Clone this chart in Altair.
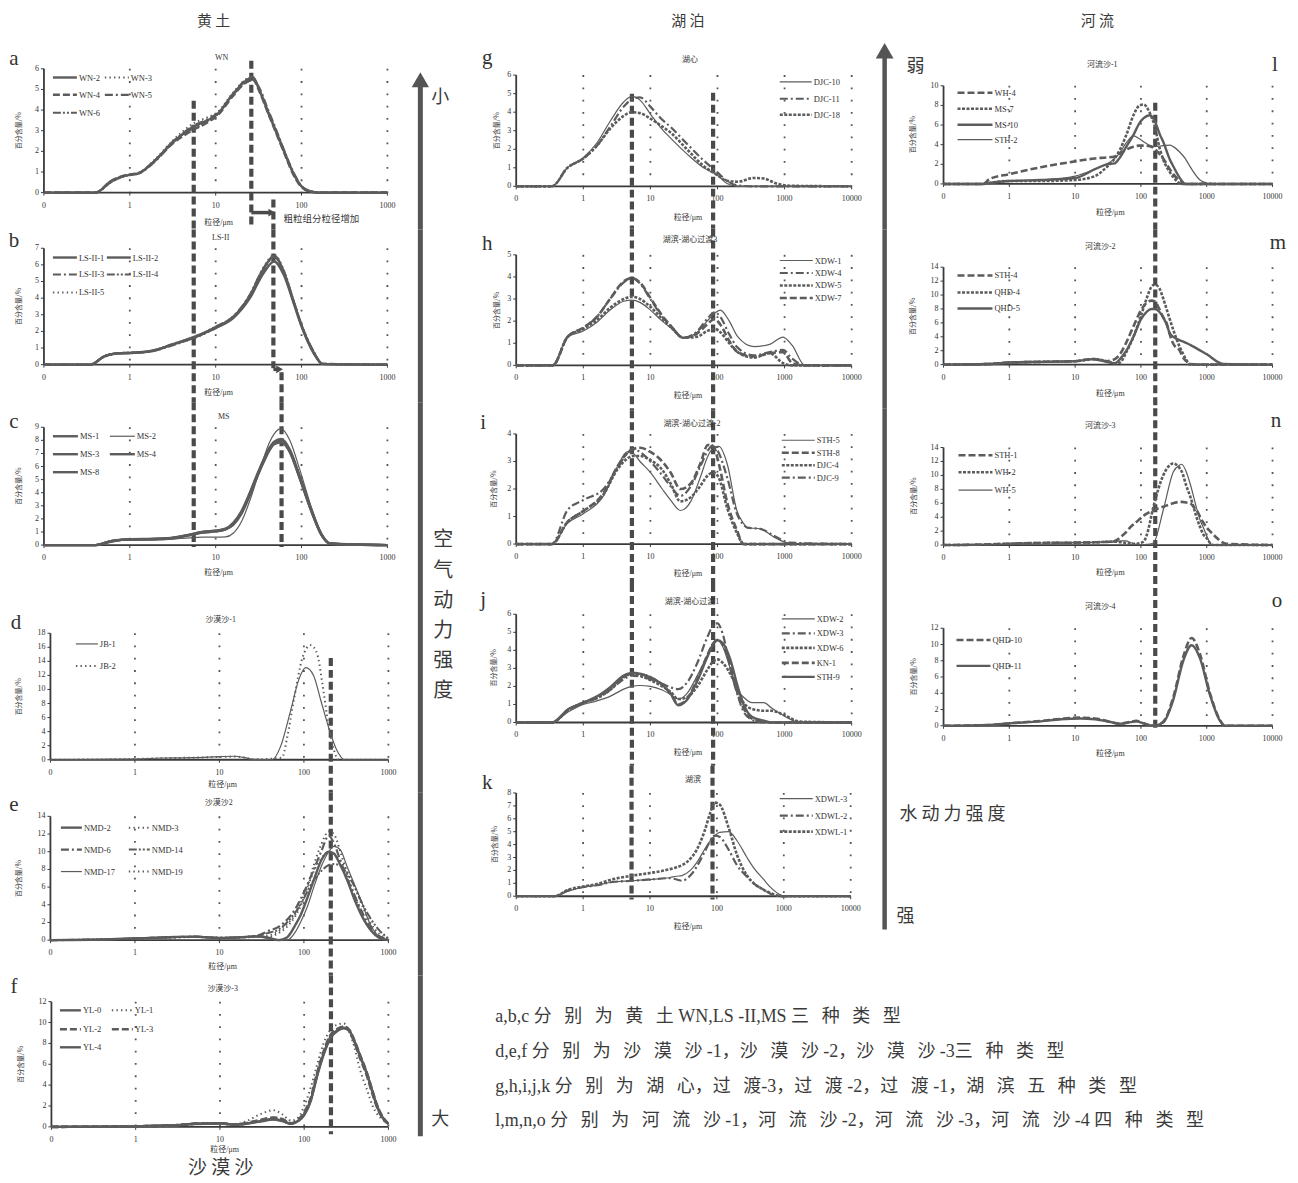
import altair as alt
import pandas as pd

# ======================= DATA =======================
A_X = [0.1, 0.4, 0.6, 0.85, 1.3, 1.9, 3.3, 5.5, 8, 10.5, 16, 23, 27, 32, 40, 50, 62, 80, 100, 130, 160, 1000]
A_SERIES = {
    "WN-2": [0, 0, 0.55, 0.8, 0.95, 1.5, 2.5, 3.2, 3.5, 3.8, 4.8, 5.45, 5.6, 5.0, 4.0, 3.0, 2.05, 0.95, 0.3, 0.05, 0, 0],
    "WN-3": [0, 0, 0.5, 0.78, 0.95, 1.55, 2.6, 3.35, 3.65, 3.9, 4.85, 5.5, 5.55, 5.05, 4.05, 3.05, 2.1, 1.0, 0.3, 0.05, 0, 0],
    "WN-4": [0, 0, 0.55, 0.82, 0.97, 1.5, 2.45, 3.05, 3.4, 3.75, 4.7, 5.4, 5.5, 4.95, 3.95, 2.95, 2.0, 0.9, 0.28, 0.04, 0, 0],
    "WN-5": [0, 0, 0.5, 0.8, 0.95, 1.45, 2.5, 3.25, 3.55, 3.85, 4.75, 5.35, 5.45, 5.1, 4.1, 3.1, 2.1, 1.0, 0.32, 0.05, 0, 0],
    "WN-6": [0, 0, 0.52, 0.8, 0.98, 1.5, 2.55, 3.1, 3.45, 3.8, 4.8, 5.5, 5.6, 5.05, 3.95, 3.0, 2.0, 0.95, 0.3, 0.05, 0, 0],
}
B_X = [0.1, 0.35, 0.5, 0.7, 1, 1.75, 3.3, 5.8, 10, 16, 25, 36, 48, 62, 81, 100, 138, 175, 1000]
B_SERIES = {
    "LS-II-1": [0, 0, 0.5, 0.68, 0.7, 0.8, 1.25, 1.65, 2.25, 2.85, 4.15, 5.75, 6.55, 5.6, 3.75, 2.35, 0.75, 0.05, 0],
    "LS-II-2": [0, 0, 0.48, 0.66, 0.7, 0.82, 1.25, 1.7, 2.2, 2.8, 4.0, 5.5, 6.2, 5.4, 3.7, 2.3, 0.7, 0.05, 0],
    "LS-II-3": [0, 0, 0.5, 0.68, 0.72, 0.8, 1.2, 1.65, 2.25, 2.9, 4.2, 5.8, 6.5, 5.55, 3.8, 2.4, 0.8, 0.06, 0],
    "LS-II-4": [0, 0, 0.5, 0.7, 0.72, 0.82, 1.28, 1.68, 2.3, 2.9, 4.1, 5.7, 6.45, 5.65, 3.85, 2.4, 0.78, 0.05, 0],
    "LS-II-5": [0, 0, 0.45, 0.65, 0.7, 0.8, 1.22, 1.62, 2.2, 2.85, 4.2, 5.85, 6.6, 5.7, 3.8, 2.35, 0.75, 0.05, 0],
}
C_X = [0.1, 0.4, 0.6, 0.8, 1, 2, 3, 5, 7, 10, 13, 16, 20, 25, 30, 36, 42, 48, 58, 73, 95, 130, 170, 215, 1000]
C_SERIES = {
    "MS-1": [0, 0, 0.3, 0.4, 0.42, 0.45, 0.5, 0.75, 0.95, 1.05, 1.2, 1.6, 2.5, 3.9, 5.2, 6.4, 7.3, 7.8, 8.0, 7.2, 5.2, 2.6, 0.8, 0.1, 0],
    "MS-2": [0, 0, 0.2, 0.35, 0.4, 0.4, 0.45, 0.55, 0.6, 0.6, 0.62, 0.9, 1.8, 3.4, 5.0, 6.6, 7.8, 8.5, 8.9, 8.0, 5.8, 2.9, 0.9, 0.15, 0],
    "MS-3": [0, 0, 0.3, 0.42, 0.45, 0.48, 0.55, 0.8, 1.0, 1.1, 1.25, 1.7, 2.6, 4.0, 5.3, 6.5, 7.4, 7.9, 8.1, 7.3, 5.3, 2.7, 0.85, 0.12, 0],
    "MS-4": [0, 0, 0.28, 0.4, 0.42, 0.46, 0.52, 0.78, 0.95, 1.05, 1.2, 1.55, 2.4, 3.8, 5.1, 6.3, 7.2, 7.7, 7.85, 7.1, 5.1, 2.6, 0.8, 0.1, 0],
    "MS-8": [0, 0, 0.3, 0.4, 0.43, 0.47, 0.53, 0.8, 1.0, 1.1, 1.22, 1.6, 2.5, 3.9, 5.2, 6.4, 7.3, 7.75, 7.9, 7.15, 5.2, 2.65, 0.82, 0.1, 0],
}
D1_X = [0.1, 1, 2, 5, 10, 15, 20, 25, 42, 53, 70, 87, 105, 130, 158, 206, 240, 270, 300, 1000]
D2_X = [0.1, 1, 2, 5, 10, 15, 20, 25, 55, 63, 76, 96, 120, 144, 165, 197, 226, 260, 1000]
D_SERIES = {
    "JB-1": (D1_X, [0, 0.1, 0.25, 0.3, 0.45, 0.5, 0.3, 0.05, 0, 1.9, 7.1, 11.4, 13.1, 12.0, 8.5, 3.8, 1.6, 0.5, 0, 0]),
    "JB-2": (D2_X, [0, 0.1, 0.2, 0.3, 0.4, 0.45, 0.3, 0.05, 0.3, 3.0, 8.5, 14.5, 16.3, 15.0, 10.9, 4.7, 1.4, 0, 0]),
}
E_X = [0.1, 0.5, 1, 3, 5, 10, 20, 30, 37, 50, 63, 80, 91, 110, 131, 160, 197, 226, 270, 325, 400, 470, 610, 800, 1000]
E_SERIES = {
    "NMD-2": [0, 0.1, 0.2, 0.35, 0.4, 0.25, 0.35, 0.45, 0.3, 0, 0.3, 1.8, 2.8, 4.8, 6.8, 9.0, 10.0, 9.8, 8.5, 6.8, 4.5, 3.0, 1.2, 0.2, 0],
    "NMD-3": [0, 0.1, 0.2, 0.3, 0.35, 0.25, 0.3, 0.4, 0.3, 0.8, 1.5, 2.8, 3.8, 6.0, 8.5, 10.8, 12.3, 12.0, 10.0, 7.5, 5.0, 3.2, 1.2, 0.3, 0.05],
    "NMD-6": [0, 0.1, 0.2, 0.35, 0.4, 0.25, 0.35, 0.6, 1.0, 1.5, 2.3, 3.6, 4.6, 6.3, 8.0, 10.0, 11.8, 11.0, 9.0, 7.0, 5.0, 3.5, 1.5, 0.4, 0.05],
    "NMD-14": [0, 0.1, 0.2, 0.35, 0.4, 0.25, 0.35, 0.55, 0.8, 1.2, 2.0, 3.2, 4.0, 5.5, 6.8, 7.8, 8.5, 8.6, 8.4, 7.5, 6.0, 4.5, 2.5, 1.0, 0.2],
    "NMD-17": [0, 0.1, 0.2, 0.3, 0.35, 0.2, 0.3, 0.35, 0.2, 0.05, 0, 1.0, 2.0, 3.8, 6.0, 8.3, 10.0, 10.6, 10.2, 8.3, 6.2, 4.6, 1.8, 0.3, 0],
    "NMD-19": [0, 0.1, 0.2, 0.3, 0.4, 0.3, 0.35, 0.45, 0.5, 1.0, 1.8, 3.0, 4.2, 6.0, 7.8, 9.2, 10.0, 9.8, 9.0, 7.8, 6.0, 4.3, 2.0, 0.6, 0.1],
}
F_X = [0.1, 1, 3, 5, 10, 15, 20, 30, 43, 55, 70, 85, 100, 120, 143, 170, 205, 250, 295, 340, 390, 460, 560, 650, 740, 850, 960, 1000]
F_SERIES = {
    "YL-0": [0, 0.05, 0.15, 0.3, 0.35, 0.2, 0.3, 0.55, 0.75, 0.6, 0.3, 0.6, 1.2, 2.6, 5.0, 7.0, 8.6, 9.3, 9.5, 9.3, 8.3, 6.8, 5.0, 3.3, 1.9, 0.9, 0.4, 0.3],
    "YL-1": [0, 0.05, 0.15, 0.3, 0.35, 0.25, 0.5, 1.2, 1.6, 1.2, 0.6, 0.9, 2.0, 3.8, 6.0, 8.0, 9.3, 9.8, 9.9, 9.2, 7.8, 5.5, 3.5, 2.0, 1.2, 0.7, 0.4, 0.3],
    "YL-2": [0, 0.05, 0.15, 0.3, 0.35, 0.2, 0.3, 0.6, 0.85, 0.7, 0.35, 0.7, 1.4, 2.8, 5.2, 7.2, 8.8, 9.4, 9.6, 9.2, 8.2, 6.6, 4.8, 3.1, 1.8, 0.85, 0.4, 0.3],
    "YL-3": [0, 0.05, 0.15, 0.3, 0.35, 0.2, 0.35, 0.65, 0.9, 0.75, 0.35, 0.6, 1.3, 2.7, 5.1, 7.1, 8.7, 9.4, 9.6, 9.35, 8.4, 6.9, 5.1, 3.4, 2.0, 1.0, 0.45, 0.3],
    "YL-4": [0, 0.05, 0.15, 0.28, 0.32, 0.2, 0.28, 0.5, 0.7, 0.55, 0.3, 0.55, 1.1, 2.5, 4.9, 6.9, 8.5, 9.2, 9.45, 9.25, 8.3, 6.8, 5.0, 3.3, 1.9, 0.9, 0.4, 0.3],
}
G_X = [0.1, 0.34, 0.58, 1, 1.6, 2.5, 4, 5.3, 7, 10, 14, 20, 35, 62, 100, 138, 200, 350, 490, 760, 1200, 10000]
G_SERIES = {
    "DJC-10": [0, 0, 1.0, 1.55, 2.35, 3.5, 4.55, 4.85, 4.65, 3.9, 3.2, 2.6, 1.75, 1.0, 0.6, 0.15, 0, 0, 0, 0, 0, 0],
    "DJC-11": [0, 0, 1.0, 1.5, 2.2, 3.2, 4.3, 4.7, 4.8, 4.3, 3.7, 3.2, 2.3, 1.4, 0.75, 0.3, 0.05, 0, 0, 0, 0, 0],
    "DJC-18": [0, 0, 1.0, 1.5, 2.2, 3.1, 3.8, 4.0, 3.95, 3.65, 3.3, 2.9, 2.0, 1.1, 0.6, 0.3, 0.25, 0.45, 0.42, 0.15, 0.03, 0],
}
H_X = [0.1, 0.35, 0.58, 1, 1.6, 2.5, 4, 5.3, 7, 10, 15, 20, 31, 50, 70, 90, 110, 150, 200, 350, 600, 950, 1300, 2000, 10000]
H_SERIES = {
    "XDW-1": [0, 0, 1.28, 1.55, 1.95, 2.5, 2.9, 2.95, 2.85, 2.5, 2.0, 1.7, 1.25, 1.5, 2.0, 2.35, 2.5, 2.0, 1.3, 0.85, 0.95, 1.28, 0.9, 0, 0],
    "XDW-4": [0, 0, 1.28, 1.7, 2.2, 3.0, 3.75, 3.95, 3.7, 3.0, 2.2, 1.8, 1.25, 1.55, 2.1, 2.4, 2.2, 1.4, 0.8, 0.45, 0.6, 0.7, 0.3, 0, 0],
    "XDW-5": [0, 0, 1.28, 1.65, 2.05, 2.6, 3.0, 3.1, 3.0, 2.65, 2.1, 1.75, 1.25, 1.3, 1.55, 1.65, 1.5, 1.0, 0.6, 0.35, 0.55, 0.1, 0, 0, 0],
    "XDW-7": [0, 0, 1.28, 1.7, 2.2, 3.0, 3.8, 3.95, 3.75, 3.05, 2.25, 1.8, 1.25, 1.45, 1.85, 2.1, 1.85, 1.1, 0.6, 0.4, 0.55, 0.6, 0.1, 0, 0],
}
I_X = [0.1, 0.34, 0.58, 1, 2, 3.2, 4.5, 5.5, 7, 10, 15, 20, 28, 40, 55, 72, 87, 105, 140, 195, 245, 277, 435, 760, 1200, 10000]
I_SERIES = {
    "STH-5": [0, 0, 0.75, 1.1, 1.75, 2.8, 3.35, 3.3, 3.0, 2.6, 2.0, 1.6, 1.22, 1.55, 2.4, 3.2, 3.5, 3.55, 2.9, 1.2, 0.75, 0.6, 0.55, 0.2, 0.03, 0],
    "STH-8": [0, 0, 0.8, 1.2, 1.85, 2.8, 3.3, 3.45, 3.5, 3.35, 3.0, 2.6, 2.0, 2.2, 2.9, 3.6, 3.55, 2.9, 1.5, 0.5, 0, 0, 0, 0, 0, 0],
    "DJC-4": [0, 0, 0.8, 1.2, 1.8, 2.7, 3.1, 3.2, 3.2, 3.05, 2.7, 2.2, 1.55, 1.7, 2.1, 2.5, 2.6, 2.4, 1.3, 0.4, 0, 0, 0, 0, 0, 0],
    "DJC-9": [0, 0, 1.23, 1.6, 2.0, 2.75, 3.3, 3.45, 3.35, 3.0, 2.5, 2.1, 1.75, 2.1, 2.8, 3.4, 3.6, 3.3, 2.4, 1.1, 0.7, 0.6, 0.55, 0.25, 0.05, 0],
}
J_X = [0.1, 0.34, 0.6, 1, 1.6, 2.5, 4, 5.3, 7, 10, 15, 20, 26, 35, 50, 70, 87, 100, 120, 155, 200, 245, 330, 490, 640, 1000, 1700, 10000]
J_SERIES = {
    "XDW-2": [0, 0, 0.6, 1.0, 1.2, 1.45, 1.85, 2.0, 2.05, 2.0, 1.8, 1.55, 1.3, 1.6, 2.6, 3.7, 4.4, 4.6, 4.2, 3.0, 1.8, 1.4, 1.1, 1.1, 0.8, 0.35, 0, 0],
    "XDW-3": [0, 0, 0.7, 1.1, 1.35, 1.8, 2.4, 2.6, 2.55, 2.4, 2.15, 1.95, 1.85, 2.2, 3.3, 4.7, 5.4, 5.5, 4.9, 3.0, 1.5, 0.6, 0.15, 0, 0, 0, 0, 0],
    "XDW-6": [0, 0, 0.7, 1.1, 1.35, 1.8, 2.5, 2.7, 2.6, 2.35, 2.0, 1.7, 1.3, 1.4, 2.0, 2.9, 3.4, 3.5, 3.3, 2.7, 1.8, 1.1, 0.75, 0.65, 0.65, 0.4, 0.05, 0],
    "KN-1": [0, 0, 0.7, 1.1, 1.4, 1.9, 2.55, 2.75, 2.7, 2.5, 2.1, 1.6, 1.0, 1.3, 2.4, 3.7, 4.4, 4.6, 4.3, 3.2, 1.6, 0.8, 0.2, 0.05, 0, 0, 0, 0],
    "STH-9": [0, 0, 0.75, 1.1, 1.45, 1.95, 2.6, 2.75, 2.7, 2.5, 2.1, 1.6, 0.95, 1.25, 2.3, 3.6, 4.35, 4.55, 4.4, 3.5, 2.0, 1.0, 0.3, 0.1, 0, 0, 0, 0],
}
K_X = [0.1, 0.37, 0.6, 1, 1.6, 2.7, 5.5, 10, 20, 25, 30, 40, 50, 65, 80, 93, 110, 150, 200, 282, 355, 500, 630, 900, 1000, 10000]
K_SERIES = {
    "XDWL-3": [0, 0, 0.4, 0.7, 0.85, 1.1, 1.2, 1.3, 1.45, 1.55, 1.6, 2.0, 2.6, 3.6, 4.3, 4.7, 4.95, 5.0, 4.3, 3.0, 2.2, 1.3, 0.7, 0.1, 0.02, 0],
    "XDWL-2": [0, 0, 0.45, 0.7, 0.85, 1.1, 1.2, 1.3, 1.4, 1.3, 1.2, 1.6, 2.3, 3.4, 4.3, 4.7, 4.6, 3.6, 2.4, 1.5, 1.0, 0.5, 0.2, 0, 0, 0],
    "XDWL-1": [0, 0, 0.5, 0.75, 0.95, 1.3, 1.6, 1.8, 2.1, 2.25, 2.4, 2.9, 3.6, 5.0, 6.5, 7.25, 7.1, 5.3, 3.2, 1.6, 1.0, 0.5, 0.25, 0.02, 0, 0],
}
L_X = [0.1, 0.4, 0.5, 1, 3, 10, 20, 30, 40, 48, 60, 77, 95, 110, 137, 160, 195, 218, 275, 310, 420, 470, 490, 790, 1000, 1200, 10000]
L_SERIES = {
    "WH-4": [0, 0, 0.5, 1.0, 1.7, 2.3, 2.6, 2.7, 2.8, 3.1, 3.5, 3.8, 3.9, 3.9, 3.85, 3.6, 3.0, 2.6, 1.5, 1.0, 0.2, 0, 0, 0, 0.1, 0, 0],
    "MS-7": [0, 0, 0.1, 0.3, 0.3, 0.4, 0.8, 1.7, 2.6, 3.5, 5.0, 7.0, 8.0, 8.1, 7.2, 6.0, 3.5, 2.5, 1.2, 0.7, 0, 0, 0, 0, 0, 0, 0],
    "MS-10": [0, 0, 0.1, 0.3, 0.4, 0.6, 1.5, 2.0, 2.1, 2.7, 3.8, 5.0, 6.2, 6.7, 7.0, 6.5, 5.0, 4.3, 2.5, 1.8, 0.3, 0, 0, 0, 0, 0, 0],
    "STH-2": [0, 0, 0.1, 0.3, 0.4, 0.8, 1.5, 2.0, 2.6, 3.2, 4.2, 4.9, 4.6, 4.3, 3.9, 3.8, 3.85, 3.9, 3.95, 3.8, 3.0, 2.6, 2.4, 0.4, 0.1, 0, 0],
}
M_X = [0.1, 0.5, 1, 3, 10, 19, 30, 40, 48, 60, 77, 100, 122, 145, 162, 190, 218, 245, 275, 310, 390, 440, 520, 560, 1000, 1780, 10000]
M_SERIES = {
    "STH-4": [0, 0.1, 0.3, 0.4, 0.5, 0.8, 0.5, 0.8, 1.5, 3.2, 5.5, 7.8, 8.9, 9.2, 9.1, 8.0, 6.8, 6.0, 4.3, 3.0, 2.0, 1.0, 0.3, 0.1, 0, 0, 0],
    "QHD-4": [0, 0.1, 0.3, 0.4, 0.5, 0.8, 0.5, 0.2, 0.3, 1.8, 4.0, 7.0, 9.5, 11.2, 11.5, 11.0, 9.5, 8.0, 6.5, 5.0, 2.5, 1.5, 0.3, 0, 0, 0, 0],
    "QHD-5": [0, 0.1, 0.3, 0.4, 0.5, 0.8, 0.4, 0.2, 0.8, 2.0, 4.0, 6.5, 7.6, 8.0, 8.0, 7.6, 6.8, 5.8, 4.5, 4.0, 3.5, 3.3, 3.0, 2.85, 1.5, 0.1, 0],
}
N_X = [0.1, 0.5, 1, 3, 10, 20, 38, 50, 60, 68, 85, 110, 123, 155, 218, 310, 390, 415, 490, 560, 630, 700, 800, 890, 1000, 1120, 1260, 2000, 10000]
N_SERIES = {
    "STH-1": [0, 0.1, 0.2, 0.3, 0.35, 0.4, 0.5, 1.2, 1.9, 2.5, 3.3, 4.2, 4.5, 5.0, 5.5, 6.0, 6.2, 6.2, 6.1, 6.0, 5.5, 5.0, 4.0, 3.2, 2.5, 2.0, 1.5, 0.2, 0],
    "WH-2": [0, 0.1, 0.2, 0.3, 0.35, 0.4, 0.5, 0.4, 0.3, 0.2, 0.2, 0.5, 1.5, 5.5, 10.0, 11.7, 11.0, 10.6, 8.5, 7.0, 5.5, 4.0, 2.5, 1.5, 1.0, 0.3, 0, 0, 0],
    "WH-5": [0, 0.1, 0.2, 0.3, 0.35, 0.4, 0.5, 0.6, 0.6, 0.4, 0.1, 0.05, 0.1, 0.3, 5.0, 10.5, 11.5, 11.6, 10.5, 8.8, 7.0, 5.3, 3.5, 2.5, 1.3, 0.3, 0, 0, 0],
}
O_X = [0.1, 0.5, 1, 3, 6, 12, 20, 33, 48, 70, 85, 110, 155, 218, 310, 440, 590, 790, 1120, 1590, 1900, 10000]
O_SERIES = {
    "QHD-10": [0, 0.1, 0.3, 0.6, 0.85, 1.0, 0.9, 0.5, 0.25, 0.5, 0.6, 0.3, 0, 0.5, 3.5, 8.5, 10.8, 8.8, 4.0, 0.7, 0, 0],
    "QHD-11": [0, 0.1, 0.3, 0.55, 0.8, 0.9, 0.8, 0.5, 0.25, 0.45, 0.55, 0.3, 0, 0.4, 3.2, 8.0, 9.9, 8.3, 3.8, 0.6, 0, 0],
}

SP = "\u2002\u2009"
CAPTION = [
    "a,b,c  " + SP.join("分别为黄土") + " WN,LS -II,MS " + SP.join("三种类型"),
    "d,e,f " + SP.join("分别为沙漠沙") + " -1，" + SP.join("沙漠沙") + " -2，" + SP.join("沙漠沙") + " -3" + SP.join("三种类型"),
    "g,h,i,j,k  " + SP.join("分别为湖心") + "，" + SP.join("过渡") + "-3，" + SP.join("过渡") + " -2，"
    + SP.join("过渡") + " -1，" + SP.join("湖滨五种类型"),
    "l,m,n,o  " + SP.join("分别为河流沙") + " -1，" + SP.join("河流沙") + " -2，" + SP.join("河流沙") + " -3，"
    + SP.join("河流沙") + " -4 " + SP.join("四种类型"),
]

# ======================= STYLE / LAYOUT =======================
FONT = "Liberation Serif, Noto Sans CJK SC"
CJK = "Noto Sans CJK SC, Liberation Serif"
LINE = "#5c5c5c"
INK = "#333333"
AXC = "#3a3a3a"
GUIDE = "#4a4a4a"

STYLES = {
    "solid": dict(strokeWidth=2.4),
    "thin": dict(strokeWidth=1.2),
    "dot": dict(strokeWidth=2.0, strokeDash=[1.4, 3.2]),
    "dash": dict(strokeWidth=2.6, strokeDash=[7, 3]),
    "dashdot": dict(strokeWidth=2.2, strokeDash=[8, 3, 2, 3]),
    "dashdotdot": dict(strokeWidth=2.0, strokeDash=[8, 2, 2, 2, 2, 2]),
    "dense": dict(strokeWidth=2.6, strokeDash=[3, 1.5]),
}

# column slots: (page x origin, width)
COLS = {"L": (8, 462), "M": (470, 406), "R": (876, 414)}

PANELS = [
    dict(id="a", col="L", slot=(8, 229), px=(43, 387), py=(192, 68), xmax=1000, ymax=6, ystep=1,
         S=A_SERIES, X=A_X, sty=["solid", "dot", "dash", "dashdot", "dashdotdot"],
         title="WN", tpos=(221, 57), letter="a", lpos=(13, 58), xt=(218, 222), yt=(18, 130),
         leg=dict(x0=52, cols=2, step=52, sym=24, rows=[76.7, 94, 112])),
    dict(id="b", col="L", slot=(229, 402), px=(43, 387), py=(364.3, 247.7), xmax=1000, ymax=7, ystep=1,
         S=B_SERIES, X=B_X, sty=["solid", "solid", "dashdot", "dashdotdot", "dot"],
         title="LS-II", tpos=(220, 237), letter="b", lpos=(13, 240), xt=(218, 393), yt=(18, 306),
         leg=dict(x0=52, cols=2, step=54, sym=24, rows=[257, 274, 292])),
    dict(id="c", col="L", slot=(402, 585), px=(43, 387), py=(545, 427), xmax=1000, ymax=9, ystep=1,
         S=C_SERIES, X=C_X, sty=["solid", "thin", "solid", "solid", "solid"],
         title="MS", tpos=(223, 417), letter="c", lpos=(13, 422), xt=(218, 573), yt=(18, 486),
         leg=dict(x0=52, cols=2, step=57, sym=25, rows=[436, 454, 472])),
    dict(id="d", col="L", slot=(585, 793), px=(49.5, 388), py=(760, 633.3), xmax=1000, ymax=18, ystep=2,
         S=D_SERIES, X=None, sty=["thin", "dot"],
         title="沙漠沙-1", tpos=(220, 620), letter="d", lpos=(15, 623), xt=(222, 785), yt=(18, 697),
         leg=dict(x0=75, cols=1, step=0, sym=22, rows=[644, 666])),
    dict(id="e", col="L", slot=(793, 976), px=(49.5, 388), py=(940.7, 816.7), xmax=1000, ymax=14, ystep=2,
         S=E_SERIES, X=E_X, sty=["solid", "dot", "dashdot", "dashdotdot", "thin", "dot"],
         title="沙漠沙2", tpos=(218, 803), letter="e", lpos=(13, 805), xt=(222, 968), yt=(18, 879),
         leg=dict(x0=60, cols=2, step=68, sym=21, rows=[828, 850, 872])),
    dict(id="f", col="L", slot=(976, 1175), px=(50.5, 388), py=(1127.7, 1002.3), xmax=1000, ymax=12, ystep=2,
         S=F_SERIES, X=F_X, sty=["solid", "dot", "dash", "dash", "solid"],
         title="沙漠沙-3", tpos=(222, 990), letter="f", lpos=(13, 988), xt=(224, 1151), yt=(20, 1065),
         leg=dict(x0=59, cols=2, step=52, sym=21, rows=[1011, 1030, 1048])),
    dict(id="g", col="M", slot=(8, 228), px=(516, 852), py=(185.7, 74.3), xmax=10000, ymax=6, ystep=1,
         S=G_SERIES, X=G_X, sty=["thin", "dashdot", "dense"],
         title="湖心", tpos=(690, 59), letter="g", lpos=(487, 57), xt=(688, 217), yt=(497, 130),
         leg=dict(x0=780, cols=1, step=0, sym=32, rows=[81, 98, 114])),
    dict(id="h", col="M", slot=(228, 410), px=(516, 852), py=(365, 254.3), xmax=10000, ymax=5, ystep=1,
         S=H_SERIES, X=H_X, sty=["thin", "dashdot", "dense", "dash"],
         title="湖滨-湖心过渡3", tpos=(690, 239), letter="h", lpos=(487, 243), xt=(688, 396), yt=(497, 310),
         leg=dict(x0=780, cols=1, step=0, sym=33, rows=[260, 272.5, 285, 297.5])),
    dict(id="i", col="M", slot=(410, 584), px=(516, 852), py=(544, 433.7), xmax=10000, ymax=4, ystep=1,
         S=I_SERIES, X=I_X, sty=["thin", "dash", "dense", "dashdot"],
         title="湖滨-湖心过渡-2", tpos=(692, 424), letter="i", lpos=(483, 423), xt=(688, 574), yt=(494, 489),
         leg=dict(x0=782, cols=1, step=0, sym=33, rows=[440, 452.5, 465, 477.5])),
    dict(id="j", col="M", slot=(584, 766), px=(516, 852), py=(722.7, 614.3), xmax=10000, ymax=6, ystep=1,
         S=J_SERIES, X=J_X, sty=["thin", "dashdot", "dense", "dash", "solid"],
         title="湖滨-湖心过渡1", tpos=(692, 602), letter="j", lpos=(483, 600), xt=(688, 753), yt=(494, 668),
         leg=dict(x0=782, cols=1, step=0, sym=33, rows=[619, 633.5, 648, 663, 677])),
    dict(id="k", col="M", slot=(766, 985), px=(516, 851), py=(896.7, 793.3), xmax=10000, ymax=8, ystep=1,
         S=K_SERIES, X=K_X, sty=["thin", "dashdot", "dense"],
         title="湖滨", tpos=(693, 780), letter="k", lpos=(487, 783), xt=(688, 928), yt=(495, 845),
         leg=dict(x0=780, cols=1, step=0, sym=33, rows=[799, 816, 832])),
    dict(id="l", col="R", slot=(8, 229), px=(943, 1272.5), py=(183.3, 85), xmax=10000, ymax=10, ystep=2,
         S=L_SERIES, X=L_X, sty=["dash", "dense", "solid", "thin"],
         title="河流沙-1", tpos=(1102, 64), letter="l", lpos=(1275, 64), xt=(1110, 212), yt=(912, 134),
         leg=dict(x0=957, cols=1, step=0, sym=35, rows=[92, 108, 124, 139])),
    dict(id="m", col="R", slot=(229, 408), px=(943, 1272.5), py=(364.3, 266.7), xmax=10000, ymax=14, ystep=2,
         S=M_SERIES, X=M_X, sty=["dash", "dense", "solid"],
         title="河流沙-2", tpos=(1100, 246), letter="m", lpos=(1278, 242), xt=(1110, 394), yt=(912, 316),
         leg=dict(x0=957, cols=1, step=0, sym=35, rows=[275, 292, 308])),
    dict(id="n", col="R", slot=(408, 588), px=(943, 1272.5), py=(545, 447.3), xmax=10000, ymax=14, ystep=2,
         S=N_SERIES, X=N_X, sty=["dash", "dense", "thin"],
         title="河流沙-3", tpos=(1100, 426), letter="n", lpos=(1276, 421), xt=(1110, 573), yt=(913, 496),
         leg=dict(x0=958, cols=1, step=0, sym=34, rows=[455, 472, 490])),
    dict(id="o", col="R", slot=(588, 985), px=(943, 1272.5), py=(726, 628.3), xmax=10000, ymax=12, ystep=2,
         S=O_SERIES, X=O_X, sty=["dash", "solid"],
         title="河流沙-4", tpos=(1100, 607), letter="o", lpos=(1277, 601), xt=(1110, 754), yt=(913, 677),
         leg=dict(x0=956, cols=1, step=0, sym=34, rows=[640, 666])),
]

# thick dashed guide lines: (panels, x in um, page y top, page y bottom)
GUIDES = [
    ("abc", 5.55, 100, 547), ("abc", 26, 60, 228), ("abc", 47, 199, 368), ("abc", 58.5, 372, 547),
    ("def", 208, 658, 1135),
    ("ghijk", 5.3, 93, 900), ("ghijk", 86, 92, 900),
    ("lmno", 165, 102, 730),
]
DARROWS = [("a", 26, 42, 45, 212), ("b", 47, 52.5, 55.5, 369)]
DTEXT = [
    ("L", 213, 20, "黄 土", 15, CJK, "center"),
    ("M", 688, 20, "湖 泊", 15, CJK, "center"),
    ("R", 1097, 20, "河 流", 15, CJK, "center"),
    ("L", 440, 97, "小", 18, CJK, "center"),
    ("L", 443, 540, "空", 20, CJK, "center"), ("L", 443, 571, "气", 20, CJK, "center"),
    ("L", 443, 601, "动", 20, CJK, "center"), ("L", 443, 631, "力", 20, CJK, "center"),
    ("L", 443, 661, "强", 20, CJK, "center"), ("L", 443, 691, "度", 20, CJK, "center"),
    ("L", 440, 1121, "大", 18, CJK, "center"),
    ("L", 220, 1169, "沙 漠 沙", 19, CJK, "center"),
    ("L", 283, 218, "粗粒组分粒径增加", 9.5, CJK, "left"),
    ("R", 915, 66, "弱", 18, CJK, "center"),
    ("R", 952, 815, "水 动 力 强 度", 18, CJK, "center"),
    ("R", 905, 918, "强", 18, CJK, "center"),
]
VRULES = [("L", 420, 84, 1137, 5), ("R", 884, 56, 930, 4.5)]
HEADS = [("L", 420, 79, 300), ("R", 884, 50, 320)]

ONE = pd.DataFrame({"k": [0]})


def txt(x, y, s, size, font=FONT, align="center", angle=None, color=INK):
    kw = dict(text=s, fontSize=size, align=align, baseline="middle", font=font, color=color)
    if angle is not None:
        kw["angle"] = angle
    return alt.Chart(ONE).mark_text(**kw).encode(x=alt.value(x), y=alt.value(y))


def in_slot(y, top, bot):
    return top <= y < bot


def build_panel(p):
    cx0, cw = COLS[p["col"]]
    top, bot = p["slot"]
    H = bot - top
    lx = lambda v: v - cx0
    ly = lambda v: v - top
    xr = [lx(p["px"][0]), lx(p["px"][1])]
    yr = [ly(p["py"][0]), ly(p["py"][1])]
    decades = [1, 10, 100, 1000] + ([10000] if p["xmax"] == 10000 else [])
    xs = alt.Scale(type="log", domain=[0.1, p["xmax"]], range=xr, nice=False)
    ys = alt.Scale(type="linear", domain=[0, p["ymax"]], range=yr, nice=False)
    X = lambda f: alt.X(f, type="quantitative", scale=xs, axis=None)
    Y = lambda f: alt.Y(f, type="quantitative", scale=ys, axis=None)

    layers = []
    # dotted decade lines
    gdf = pd.DataFrame({"x": decades, "y": [p["ymax"]] * len(decades), "y0": [0] * len(decades)})
    layers.append(alt.Chart(gdf).mark_rule(color="#555555", strokeWidth=1.8, strokeDash=[1.8, 10.5]).encode(
        x=X("x"), y=Y("y"), y2=alt.Y2("y0")))

    # axes drawn from the scales
    xt_vals = [0.1] + decades
    xt_lab = ["0"] + [str(v) for v in decades]
    yt_vals = list(range(0, p["ymax"] + 1, p["ystep"]))
    layers.append(alt.Chart(pd.DataFrame({"x": [0.1], "x2": [p["xmax"]], "y": [0]})).mark_rule(
        color=AXC, strokeWidth=1.8).encode(x=X("x"), x2=alt.X2("x2"), y=Y("y")))
    layers.append(alt.Chart(pd.DataFrame({"x": [0.1], "y": [0], "y2": [p["ymax"]]})).mark_rule(
        color=AXC, strokeWidth=1.8).encode(x=X("x"), y=Y("y"), y2=alt.Y2("y2")))
    ydf = pd.DataFrame({"y": yt_vals, "lab": [str(v) for v in yt_vals]})
    layers.append(alt.Chart(ydf).mark_rule(color=AXC, strokeWidth=1).encode(
        x=alt.value(xr[0] - 3), x2=alt.value(xr[0]), y=Y("y")))
    layers.append(alt.Chart(ydf).mark_text(font="Liberation Serif", fontSize=8, color=INK, align="right",
                                           baseline="middle").encode(
        x=alt.value(xr[0] - 5), y=Y("y"), text="lab:N"))
    xdf = pd.DataFrame({"x": xt_vals, "lab": xt_lab})
    layers.append(alt.Chart(xdf).mark_rule(color=AXC, strokeWidth=1).encode(
        x=X("x"), y=alt.value(yr[0]), y2=alt.value(yr[0] + 3)))
    layers.append(alt.Chart(xdf).mark_text(font="Liberation Serif", fontSize=8, color=INK, align="center",
                                           baseline="middle").encode(
        x=X("x"), y=alt.value(yr[0] + 13), text="lab:N"))

    # guides
    for ids, gx, y1, y2 in GUIDES:
        if p["id"] not in ids:
            continue
        a, b = max(y1, top), min(y2, bot)
        if a < b:
            layers.append(alt.Chart(pd.DataFrame({"x": [gx]})).mark_rule(
                color=GUIDE, strokeWidth=4.2, strokeDash=[8, 4]).encode(
                x=X("x"), y=alt.value(ly(a)), y2=alt.value(ly(b))))
    for pid, xa, xb, xh, yy in DARROWS:
        if pid != p["id"]:
            continue
        layers.append(alt.Chart(pd.DataFrame({"x": [xa], "x2": [xb]})).mark_rule(color=GUIDE, strokeWidth=3.5).encode(
            x=X("x"), x2=alt.X2("x2"), y=alt.value(ly(yy))))
        layers.append(alt.Chart(pd.DataFrame({"x": [xh]})).mark_point(
            shape="triangle-right", filled=True, size=60, color=GUIDE, opacity=1).encode(
            x=X("x"), y=alt.value(ly(yy))))

    # series
    names = list(p["S"].keys())
    for name, st in zip(names, p["sty"]):
        v = p["S"][name]
        if isinstance(v, tuple):
            xv, yv = v
        else:
            xv, yv = p["X"], v
        if len(xv) != len(yv):
            raise ValueError(f"length mismatch {p['id']} {name}: {len(xv)} vs {len(yv)}")
        df = pd.DataFrame({"x": xv, "y": yv})
        layers.append(alt.Chart(df).mark_line(color=LINE, interpolate="monotone", **STYLES[st]).encode(
            x=X("x"), y=Y("y")))

    # manual legend
    lg = p["leg"]
    for i, (name, st) in enumerate(zip(names, p["sty"])):
        r, c = divmod(i, lg["cols"])
        x1 = lx(lg["x0"] + c * lg["step"])
        yy = ly(lg["rows"][r])
        layers.append(alt.Chart(ONE).mark_rule(color=LINE, **STYLES[st]).encode(
            x=alt.value(x1), x2=alt.value(x1 + lg["sym"]), y=alt.value(yy)))
        layers.append(txt(x1 + lg["sym"] + 2, yy, name, 8.5, align="left"))

    # titles / letters / axis titles
    layers.append(txt(lx(p["tpos"][0]), ly(p["tpos"][1]), p["title"], 8, font=FONT))
    layers.append(txt(lx(p["lpos"][0]), ly(p["lpos"][1]), p["letter"], 21, font="Liberation Serif"))
    layers.append(txt(lx(p["xt"][0]), ly(p["xt"][1]), "粒径/μm", 8, font=FONT))
    layers.append(txt(lx(p["yt"][0]), ly(p["yt"][1]), "百分含量/%", 7, font=CJK, angle=270))

    # decorations belonging to this slot
    for col, x, y, s, size, font, align in DTEXT:
        if col == p["col"] and in_slot(y, top, bot):
            layers.append(txt(lx(x), ly(y), s, size, font=font, align=align, color="#3a3a3a"))
    for col, x, y1, y2, w in VRULES:
        if col != p["col"]:
            continue
        a, b = max(y1, top), min(y2, bot)
        if a < b:
            layers.append(alt.Chart(ONE).mark_rule(color="#555555", strokeWidth=w).encode(
                x=alt.value(lx(x)), y=alt.value(ly(a)), y2=alt.value(ly(b))))
    for col, x, y, size in HEADS:
        if col == p["col"] and in_slot(y, top, bot):
            layers.append(alt.Chart(ONE).mark_point(shape="triangle-up", filled=True, size=size,
                                                    color="#555555", opacity=1).encode(
                x=alt.value(lx(x)), y=alt.value(ly(y))))

    return alt.layer(*layers).properties(width=cw, height=H)


charts = {p["id"]: build_panel(p) for p in PANELS}

cap_layers = [txt(25, 33 + 34.7 * i, line, 18, font=FONT, align="left", color="#3a3a3a")
              for i, line in enumerate(CAPTION)]
caption = alt.layer(*cap_layers).properties(width=820, height=190)

# inner columns: flush (layout by slot sizes only); outer: full
left_col = alt.vconcat(*[charts[k] for k in "abcdef"], spacing=0, bounds="flush")
mid_col = alt.vconcat(*[charts[k] for k in "ghijk"], spacing=0, bounds="flush")
right_col = alt.vconcat(*[charts[k] for k in "lmno"], spacing=0, bounds="flush")
upper = alt.hconcat(mid_col, right_col, spacing=0, bounds="full")
right_part = alt.vconcat(upper, caption, spacing=0, bounds="full")

chart = alt.hconcat(left_col, right_part, spacing=0, bounds="full", padding=0).configure_view(
    stroke=None
).properties(background="white")

chart.save("out.html", embed_options={"renderer": "svg", "actions": False})
